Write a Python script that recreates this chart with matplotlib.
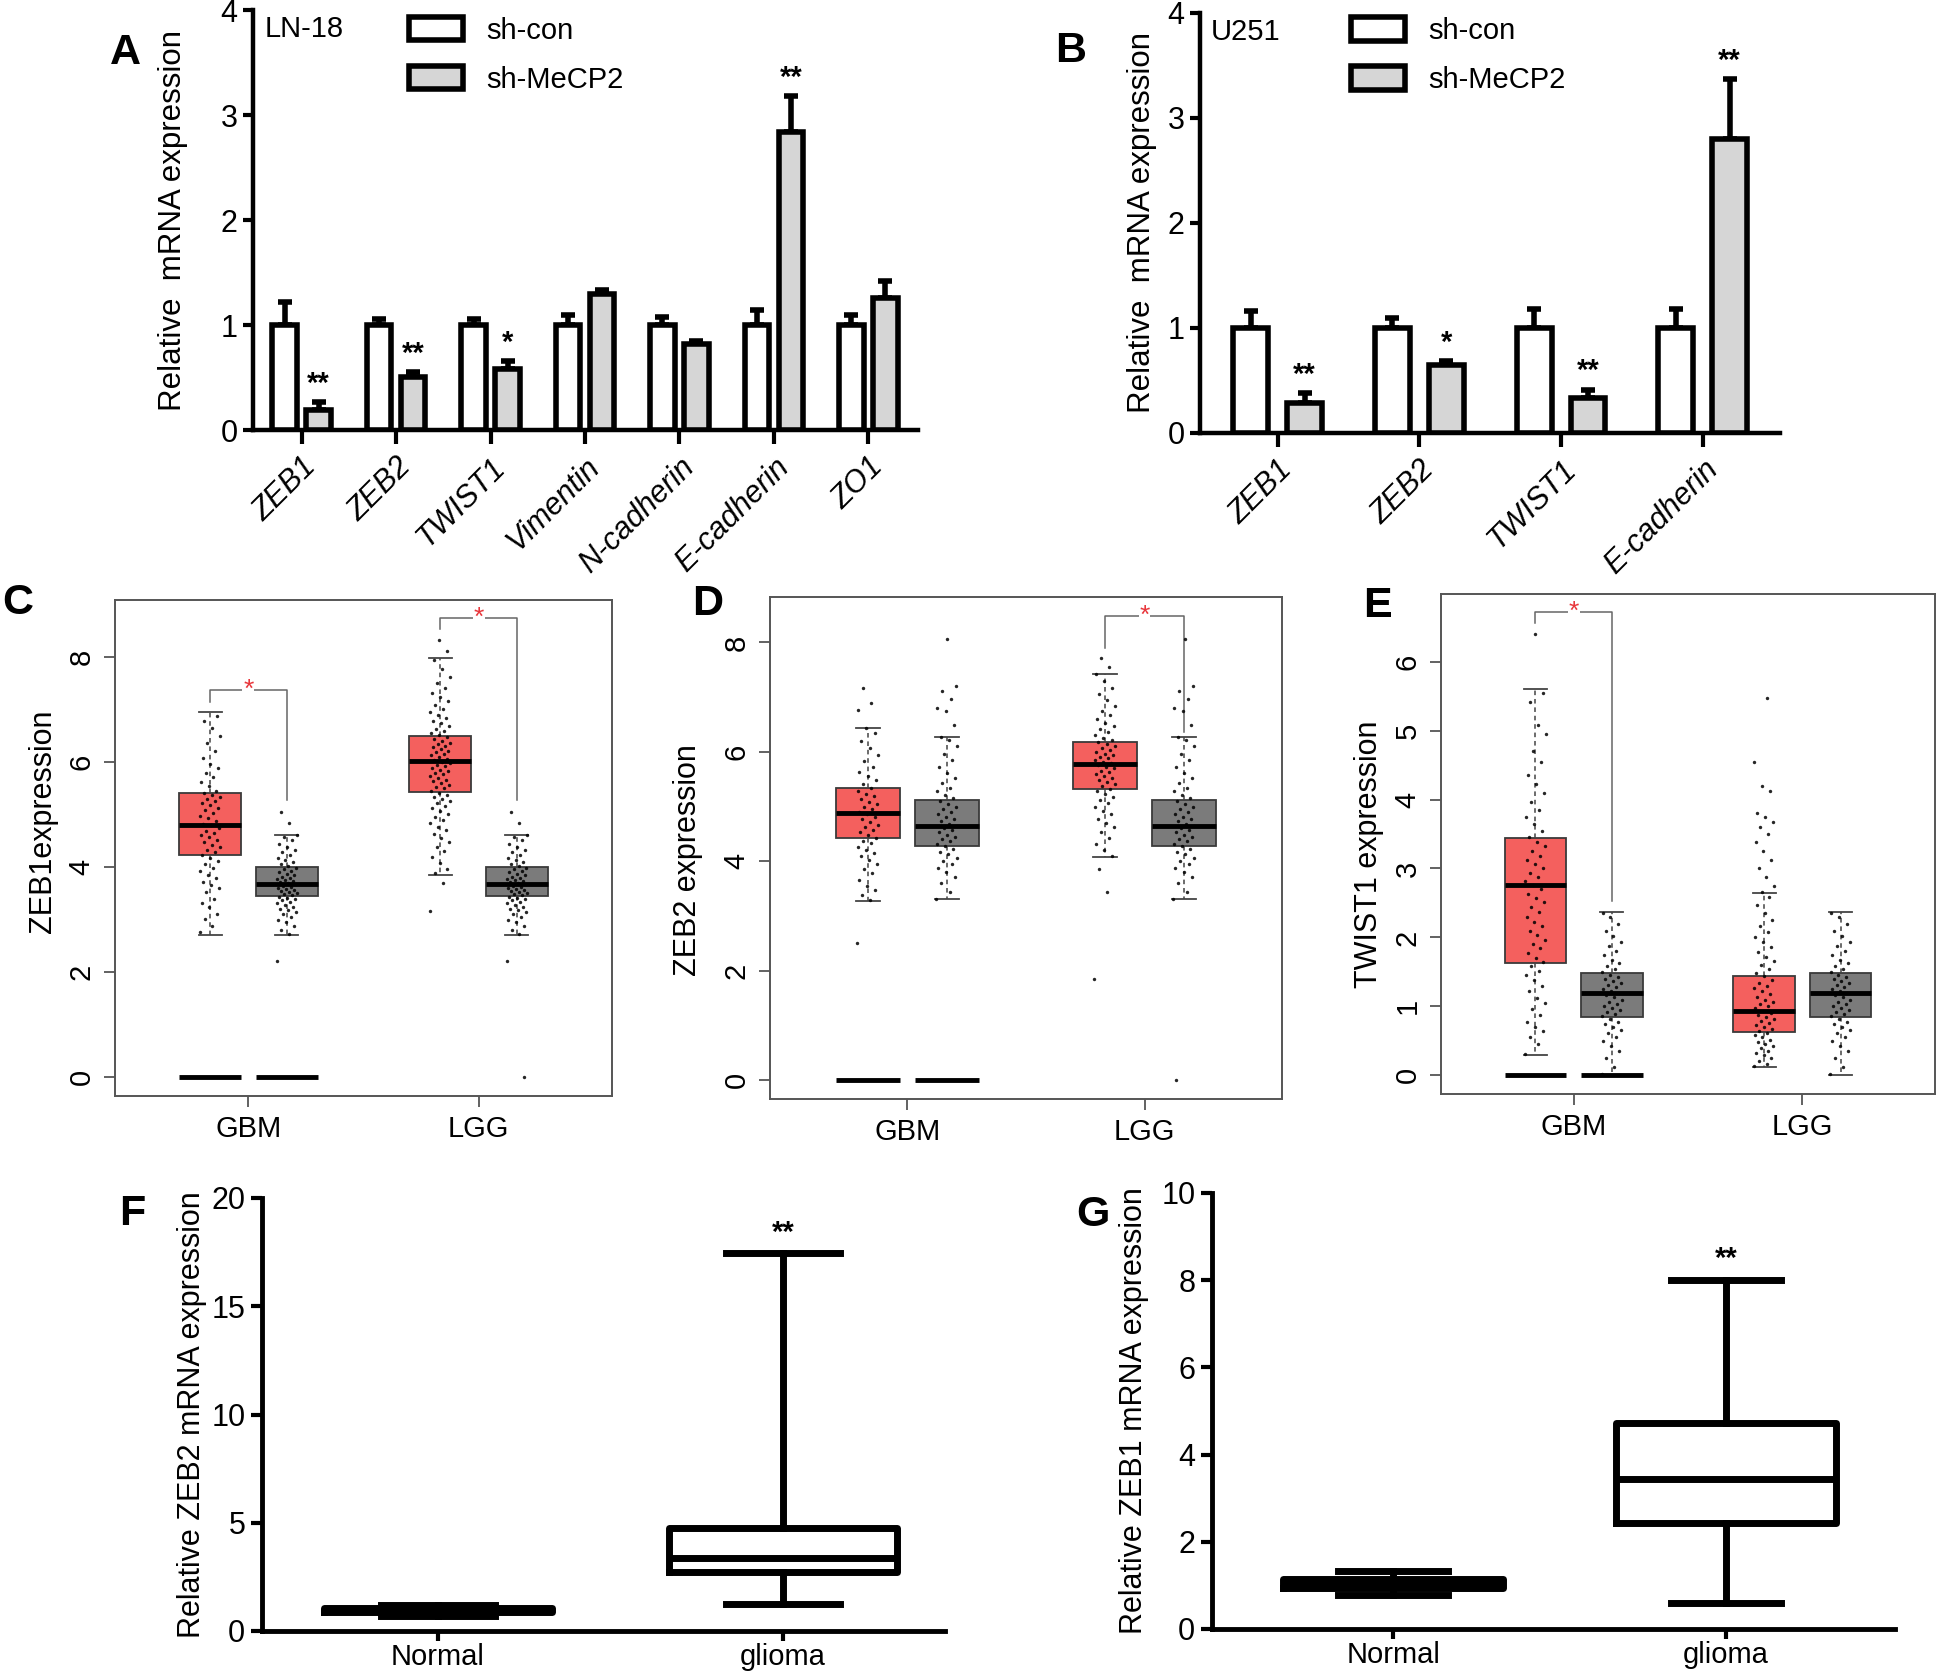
import numpy as np
import matplotlib
matplotlib.use("Agg")
import matplotlib.pyplot as plt

NARROW = ['Liberation Sans Narrow', 'Liberation Sans', 'DejaVu Sans']
SANS = ['Liberation Sans', 'DejaVu Sans']
plt.rcParams['font.family'] = SANS

# ---------------- data ----------------
# Panel A (LN-18)
a_genes = ['ZEB1', 'ZEB2', 'TWIST1', 'Vimentin', 'N-cadherin', 'E-cadherin', 'ZO1']
a_con = [1.0, 1.0, 1.0, 1.0, 1.0, 1.0, 1.0]
a_con_err = [0.22, 0.06, 0.06, 0.10, 0.08, 0.14, 0.10]
a_sh = [0.19, 0.51, 0.58, 1.30, 0.82, 2.84, 1.26]
a_sh_err = [0.08, 0.04, 0.08, 0.03, 0.03, 0.34, 0.16]
a_stars = ['**', '**', '*', '', '', '**', '']

# Panel B (U251)
b_genes = ['ZEB1', 'ZEB2', 'TWIST1', 'E-cadherin']
b_con = [1.0, 1.0, 1.0, 1.0]
b_con_err = [0.16, 0.09, 0.18, 0.18]
b_sh = [0.28, 0.64, 0.33, 2.80]
b_sh_err = [0.10, 0.04, 0.08, 0.57]
b_stars = ['**', '*', '**', '**']

legend_labels = ['sh-con', 'sh-MeCP2']

# Panels C-E (box stats: whislo, q1, med, q3, whishi)
gepia_groups = ['GBM', 'LGG']
zeb1_tumor_box = [[2.71, 4.23, 4.81, 5.41, 6.95], [3.86, 5.43, 6.02, 6.49, 7.98]]
zeb1_normal_box = [2.71, 3.46, 3.67, 4.00, 4.62]
zeb2_tumor_box = [[3.28, 4.43, 4.89, 5.34, 6.44], [4.08, 5.32, 5.78, 6.18, 7.43]]
zeb2_normal_box = [3.32, 4.29, 4.65, 5.13, 6.27]
twist1_tumor_box = [[0.29, 1.63, 2.76, 3.44, 5.60], [0.12, 0.63, 0.94, 1.44, 2.64]]
twist1_normal_box = [0.00, 0.85, 1.19, 1.48, 2.37]

zeb1_gbm_tumor_pts = [2.76, 2.88, 3.02, 3.11, 3.24, 3.31, 3.4, 3.52, 3.6, 3.66, 3.71, 3.79, 3.85,
                      3.93, 3.99, 4.06, 4.12, 4.18, 4.24, 4.29, 4.33, 4.39, 4.43, 4.48, 4.51, 4.57,
                      4.61, 4.66, 4.69, 4.74, 4.8, 4.83, 4.88, 4.93, 4.98, 5.04, 5.09, 5.13, 5.18,
                      5.22, 5.26, 5.3, 5.33, 5.37, 5.41, 5.46, 5.55, 5.63, 5.71, 5.8, 5.88, 5.97,
                      6.08, 6.22, 6.36, 6.5, 6.66, 6.79, 6.88]
zeb1_lgg_tumor_pts = [3.17, 3.69, 3.88, 3.97, 4.08, 4.19, 4.3, 4.38, 4.47, 4.55, 4.63, 4.7, 4.77,
                      4.84, 4.9, 4.96, 5.02, 5.07, 5.12, 5.17, 5.22, 5.26, 5.3, 5.34, 5.38, 5.42,
                      5.46, 5.5, 5.53, 5.57, 5.6, 5.64, 5.67, 5.7, 5.74, 5.77, 5.8, 5.83, 5.86,
                      5.89, 5.92, 5.95, 5.98, 6.01, 6.04, 6.07, 6.1, 6.13, 6.16, 6.19, 6.22, 6.25,
                      6.28, 6.31, 6.34, 6.37, 6.41, 6.44, 6.48, 6.52, 6.56, 6.6, 6.64, 6.69, 6.74,
                      6.79, 6.84, 6.9, 6.96, 7.02, 7.09, 7.16, 7.24, 7.32, 7.41, 7.5, 7.62, 7.78,
                      7.95, 8.12, 8.33]
zeb1_normal_pts = [2.21, 2.73, 2.8, 2.88, 2.95, 3.0, 3.05, 3.1, 3.14, 3.18, 3.21, 3.25, 3.28, 3.31,
                   3.34, 3.37, 3.4, 3.42, 3.44, 3.47, 3.49, 3.51, 3.53, 3.55, 3.57, 3.59, 3.61,
                   3.63, 3.65, 3.67, 3.69, 3.71, 3.73, 3.75, 3.77, 3.8, 3.82, 3.85, 3.87, 3.9,
                   3.93, 3.96, 3.99, 4.02, 4.06, 4.1, 4.14, 4.18, 4.23, 4.28, 4.33, 4.39, 4.45,
                   4.51, 4.57, 4.62, 4.85, 5.06]

zeb2_gbm_tumor_pts = [2.51, 3.29, 3.38, 3.47, 3.55, 3.66, 3.78, 3.87, 3.95, 4.02, 4.09, 4.15, 4.21,
                      4.27, 4.33, 4.38, 4.43, 4.48, 4.53, 4.58, 4.63, 4.67, 4.72, 4.77, 4.81, 4.86,
                      4.9, 4.95, 4.99, 5.04, 5.09, 5.14, 5.19, 5.24, 5.29, 5.35, 5.41, 5.48, 5.56,
                      5.64, 5.73, 5.83, 5.95, 6.07, 6.2, 6.34, 6.43, 6.76, 6.89, 7.16]
zeb2_lgg_tumor_pts = [1.85, 3.45, 3.87, 4.09, 4.2, 4.32, 4.43, 4.53, 4.62, 4.7, 4.78, 4.86, 4.93,
                      5.0, 5.06, 5.12, 5.18, 5.23, 5.28, 5.33, 5.37, 5.41, 5.45, 5.49, 5.53, 5.56,
                      5.6, 5.63, 5.66, 5.7, 5.73, 5.76, 5.79, 5.82, 5.85, 5.88, 5.91, 5.94, 5.97,
                      6.0, 6.03, 6.07, 6.1, 6.14, 6.18, 6.22, 6.26, 6.31, 6.36, 6.41, 6.47, 6.53,
                      6.6, 6.67, 6.75, 6.84, 6.94, 7.05, 7.17, 7.3, 7.42, 7.55, 7.72]
zeb2_normal_pts = [3.32, 3.45, 3.6, 3.72, 3.8, 3.88, 3.95, 4.01, 4.07, 4.13, 4.18, 4.23, 4.28, 4.32,
                   4.37, 4.41, 4.45, 4.49, 4.53, 4.57, 4.61, 4.65, 4.69, 4.73, 4.77, 4.81, 4.86,
                   4.9, 4.95, 5.0, 5.05, 5.1, 5.15, 5.21, 5.28, 5.35, 5.43, 5.52, 5.62, 5.73,
                   5.85, 5.97, 6.1, 6.22, 6.27, 6.5, 6.74, 6.8, 6.97, 7.11, 7.21, 8.07]

twist1_gbm_tumor_pts = [0.31, 0.45, 0.56, 0.64, 0.7, 0.78, 0.87, 0.96, 1.05, 1.12, 1.22, 1.3, 1.38,
                        1.45, 1.52, 1.58, 1.64, 1.7, 1.77, 1.84, 1.9, 1.96, 2.03, 2.1, 2.16, 2.23,
                        2.3, 2.37, 2.44, 2.51, 2.57, 2.63, 2.7, 2.76, 2.82, 2.88, 2.94, 3.0, 3.06,
                        3.12, 3.18, 3.25, 3.32, 3.39, 3.46, 3.55, 3.64, 3.74, 3.85, 3.97, 4.1, 4.22,
                        4.36, 4.55, 4.7, 4.95, 5.08, 5.42, 5.55, 6.4]
twist1_lgg_tumor_pts = [0.13, 0.17, 0.21, 0.25, 0.29, 0.33, 0.36, 0.4, 0.43, 0.46, 0.49, 0.52, 0.55,
                        0.58, 0.61, 0.64, 0.67, 0.7, 0.73, 0.76, 0.79, 0.82, 0.85, 0.88, 0.91, 0.94,
                        0.97, 1.0, 1.03, 1.07, 1.1, 1.14, 1.18, 1.22, 1.26, 1.3, 1.34, 1.39, 1.44,
                        1.49, 1.54, 1.6, 1.66, 1.72, 1.79, 1.86, 1.93, 2.0, 2.08, 2.17, 2.26, 2.36,
                        2.47, 2.58, 2.66, 2.75, 2.88, 3.0, 3.12, 3.25, 3.38, 3.5, 3.6, 3.68, 3.74,
                        3.8, 4.12, 4.19, 4.55, 5.47]
twist1_normal_pts = [0.02, 0.12, 0.25, 0.35, 0.43, 0.5, 0.56, 0.61, 0.66, 0.7, 0.74, 0.78, 0.82,
                     0.86, 0.89, 0.92, 0.95, 0.98, 1.01, 1.04, 1.07, 1.1, 1.13, 1.16, 1.19, 1.22,
                     1.25, 1.28, 1.31, 1.34, 1.37, 1.4, 1.43, 1.46, 1.5, 1.54, 1.58, 1.63, 1.68,
                     1.74, 1.8, 1.87, 1.94, 2.02, 2.1, 2.2, 2.3, 2.36]
lgg_normal_extra_zero = [0.0]   # extra point at 0 in LGG normal (panels C, D)

# Panels F, G (whislo, q1, med, q3, whishi)
fg_groups = ['Normal', 'glioma']
f_box = [[0.70, 0.89, 0.97, 1.05, 1.20], [1.23, 2.71, 3.35, 4.74, 17.46]]
g_box = [[0.78, 0.95, 1.05, 1.145, 1.33], [0.59, 2.44, 3.43, 4.72, 8.00]]

# ---------------- figure ----------------
W, H = 1943, 1678
fig = plt.figure(figsize=(W / 100, H / 100), dpi=100)


def ax_px(l, t, r, b):
    return fig.add_axes([l / W, 1 - b / H, (r - l) / W, (b - t) / H])


def set_family(labels, fam, **kw):
    for t in labels:
        t.set_fontfamily(fam)
        for k, v in kw.items():
            getattr(t, 'set_' + k)(v)


LW = 4


def bar_panel(box, genes, con, con_err, sh, sh_err, stars, off, width, cell_label,
              leg_xy, xlim, panel_letter, letter_xy, ylabel_x):
    l, t, r, b = box
    ax = ax_px(l, t, r, b)
    x = np.arange(len(genes))
    ax.errorbar(x - off, con, yerr=[np.zeros(len(con)), con_err], fmt='none', ecolor='black',
                elinewidth=LW, capsize=5, capthick=LW, zorder=2)
    ax.errorbar(x + off, sh, yerr=[np.zeros(len(sh)), sh_err], fmt='none', ecolor='black',
                elinewidth=LW, capsize=5, capthick=LW, zorder=2)
    ax.bar(x - off, con, width, color='white', edgecolor='black', linewidth=LW,
           label=legend_labels[0], zorder=3)
    ax.bar(x + off, sh, width, color='#d6d6d6', edgecolor='black', linewidth=LW,
           label=legend_labels[1], zorder=3)
    for xi, yv, e, s in zip(x + off, sh, sh_err, stars):
        if s:
            ax.text(xi, yv + e + 0.04, s, ha='center', va='bottom', fontsize=21,
                    fontweight='bold', family=SANS)
    ax.set_ylim(0, 4)
    ax.set_xlim(*xlim)
    ax.set_yticks([0, 1, 2, 3, 4])
    ax.set_xticks(x)
    ax.set_xticklabels(genes, rotation=45, ha='right', va='top', rotation_mode='anchor')
    set_family(ax.get_xticklabels(), NARROW, fontsize=22, fontstyle='italic')
    set_family(ax.get_yticklabels(), NARROW, fontsize=22)
    for s in ['top', 'right']:
        ax.spines[s].set_visible(False)
    for s in ['left', 'bottom']:
        ax.spines[s].set_linewidth(3.2)
    ax.spines['left'].set_bounds(0, 4)
    ax.tick_params(axis='y', length=7, width=3, pad=4)
    ax.tick_params(axis='x', length=10, width=3, pad=6)
    ax.set_ylabel('Relative  mRNA expression', fontsize=22.5, va='center')
    ax.yaxis.set_label_coords((ylabel_x - l) / (r - l), 0.5)
    ax.text(0.018, 0.955, cell_label, transform=ax.transAxes, fontsize=21, va='center', ha='left')
    ax.legend(loc='upper left', bbox_to_anchor=leg_xy, frameon=False, fontsize=21,
              handlelength=1.85, handleheight=0.85, handletextpad=0.8, labelspacing=0.72,
              borderpad=0, borderaxespad=0)
    fig.text(letter_xy[0] / W, 1 - letter_xy[1] / H, panel_letter, fontsize=31,
             fontweight='bold', ha='center', va='center')
    return ax


bar_panel((253, 10.4, 918, 430), a_genes, a_con, a_con_err, a_sh, a_sh_err, a_stars,
          0.18, 0.26, 'LN-18', (0.235, 0.985), (-0.514, 6.525), 'A', (125, 53), 173)
bar_panel((1200, 13, 1780, 432.5), b_genes, b_con, b_con_err, b_sh, b_sh_err, b_stars,
          0.19, 0.245, 'U251', (0.26, 0.99), (-0.548, 3.545), 'B', (1071, 51), 1142)

RED = '#F4605E'
GREY = '#7B7B7B'
OFF = 0.167
BW = 0.27


def jitter(n):
    return ((np.arange(n) * 0.6180339887) % 1.0 - 0.5) * 2 * 0.045


def gepia_panel(box, tumor_box, normal_box, tumor_pts, normal_pts, normal_extra, ylim, yticks,
                ylabel, ylabel_xy, brackets, letter, letter_xy):
    l, t, r, b = box
    ax = ax_px(l, t, r, b)
    pos = [1 - OFF, 1 + OFF, 2 - OFF, 2 + OFF]
    stats = []
    for q in [tumor_box[0], normal_box, tumor_box[1], normal_box]:
        stats.append(dict(whislo=q[0], q1=q[1], med=q[2], q3=q[3], whishi=q[4]))
    bp = ax.bxp(stats, positions=pos, widths=BW, patch_artist=True, showfliers=False,
                capwidths=0.1, zorder=2,
                boxprops=dict(edgecolor='#3a3a3a', linewidth=1.3),
                medianprops=dict(color='black', linewidth=3.5),
                whiskerprops=dict(color='#444444', linewidth=1.1, linestyle=(0, (3, 2.5))),
                capprops=dict(color='#444444', linewidth=1.3))
    for patch, col in zip(bp['boxes'], [RED, GREY, RED, GREY]):
        patch.set_facecolor(col)
    for m in bp['medians']:
        m.set_zorder(5)
    groups = [tumor_pts[0], normal_pts, tumor_pts[1], list(normal_pts) + list(normal_extra)]
    for p, vals in zip(pos, groups):
        vals = np.asarray(vals, dtype=float)
        ax.scatter(p + jitter(len(vals)), vals, s=6, color='black', linewidths=0, alpha=0.85,
                   zorder=4)
    # zero bars at GBM positions
    ax.hlines([0, 0], [pos[0] - BW / 2, pos[1] - BW / 2], [pos[0] + BW / 2, pos[1] + BW / 2],
              color='black', linewidth=3.5, zorder=5)
    for (g, yb, yl, yr) in brackets:
        x1, x2 = g - OFF, g + OFF
        ax.plot([x1, x1, x2, x2], [yl, yb, yb, yr], color='#666666', linewidth=1.1, zorder=3)
        ax.text(g, yb, '*', color='#E8363B', fontsize=19, ha='center', va='center', zorder=6,
                bbox=dict(facecolor='white', edgecolor='none', pad=0.5))
    ax.set_xlim(0.42, 2.58)
    ax.set_ylim(*ylim)
    ax.set_yticks(yticks)
    ax.set_yticklabels([str(v) for v in yticks], rotation=90, va='center')
    ax.set_xticks([1, 2])
    ax.set_xticklabels(gepia_groups)
    set_family(ax.get_xticklabels(), SANS, fontsize=21)
    set_family(ax.get_yticklabels(), SANS, fontsize=21)
    for s in ax.spines.values():
        s.set_color('#555555')
        s.set_linewidth(1.4)
    ax.tick_params(axis='both', length=8, width=1.3, color='#555555', pad=6)
    ax.set_ylabel(ylabel, fontsize=22, va='center')
    ax.yaxis.set_label_coords((ylabel_xy[0] - l) / (r - l), (b - ylabel_xy[1]) / (b - t))
    fig.text(letter_xy[0] / W, 1 - letter_xy[1] / H, letter, fontsize=31, fontweight='bold',
             ha='center', va='center')
    return ax


gepia_panel((115, 600, 612, 1096), zeb1_tumor_box, zeb1_normal_box,
            [zeb1_gbm_tumor_pts, zeb1_lgg_tumor_pts], zeb1_normal_pts, lgg_normal_extra_zero,
            (-0.36, 9.09), [0, 2, 4, 6, 8], 'ZEB1expression', (43, 821),
            [(1, 7.37, 7.14, 5.27), (2, 8.75, 8.54, 5.27)], 'C', (18, 603))
gepia_panel((770, 597, 1282, 1099), zeb2_tumor_box, zeb2_normal_box,
            [zeb2_gbm_tumor_pts, zeb2_lgg_tumor_pts], zeb2_normal_pts, lgg_normal_extra_zero,
            (-0.34, 8.83), [0, 2, 4, 6, 8], 'ZEB2 expression', (688, 860),
            [(2, 8.48, 7.9, 6.37)], 'D', (708, 604))
gepia_panel((1441, 594, 1935, 1094), twist1_tumor_box, twist1_normal_box,
            [twist1_gbm_tumor_pts, twist1_lgg_tumor_pts], twist1_normal_pts, [],
            (-0.27, 6.98), [0, 1, 2, 3, 4, 5, 6], 'TWIST1 expression', (1369, 854),
            [(1, 6.72, 6.56, 2.53)], 'E', (1377, 606))


def prism_panel(box, stats_vals, ylim, yticks, ylabel, ylabel_x, xlim, star_y, letter, letter_xy):
    l, t, r, b = box
    ax = ax_px(l, t, r, b)
    stats = [dict(whislo=q[0], q1=q[1], med=q[2], q3=q[3], whishi=q[4]) for q in stats_vals]
    plw = 5
    ax.bxp(stats, positions=[0, 1], widths=0.66, showfliers=False, capwidths=0.33,
           boxprops=dict(color='black', linewidth=plw),
           medianprops=dict(color='black', linewidth=plw),
           whiskerprops=dict(color='black', linewidth=plw),
           capprops=dict(color='black', linewidth=plw))
    ax.text(1, star_y, '**', ha='center', va='center', fontsize=21, fontweight='bold')
    ax.set_xlim(*xlim)
    ax.set_ylim(*ylim)
    ax.set_yticks(yticks)
    ax.set_xticks([0, 1])
    ax.set_xticklabels(fg_groups)
    set_family(ax.get_xticklabels(), NARROW, fontsize=21)
    set_family(ax.get_yticklabels(), NARROW, fontsize=22)
    for s in ['top', 'right']:
        ax.spines[s].set_visible(False)
    for s in ['left', 'bottom']:
        ax.spines[s].set_linewidth(3.5)
    ax.tick_params(axis='y', length=8, width=3, pad=4)
    ax.tick_params(axis='x', length=7, width=3, pad=1.5)
    ax.set_ylabel(ylabel, fontsize=22, va='center')
    ax.yaxis.set_label_coords((ylabel_x - l) / (r - l), 0.5)
    fig.text(letter_xy[0] / W, 1 - letter_xy[1] / H, letter, fontsize=31, fontweight='bold',
             ha='center', va='center')
    return ax


prism_panel((262, 1198, 945, 1631), f_box, (0, 20), [0, 5, 10, 15, 20],
            'Relative ZEB2 mRNA expression', 192, (-0.51, 1.47), 18.4, 'F', (132, 1214))
prism_panel((1212, 1193, 1895, 1629), g_box, (0, 10), [0, 2, 4, 6, 8, 10],
            'Relative ZEB1 mRNA expression', 1134, (-0.544, 1.507), 8.48, 'G', (1093, 1215))

fig.savefig('out.png', dpi=100, facecolor='white')
